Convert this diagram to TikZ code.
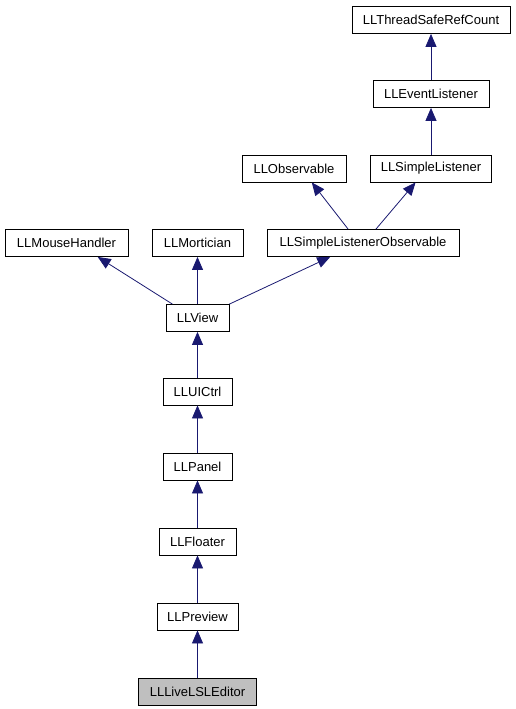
\documentclass[tikz,border=0pt]{standalone}
\usepackage{fontspec}
\setmainfont{Liberation Sans}
\usetikzlibrary{arrows.meta}
\definecolor{edgeblue}{HTML}{191970}
\tikzset{
  cls/.style={draw=black, line width=0.8pt, fill=white, minimum height=27pt,
    inner sep=0pt, font=\fontsize{13}{15}\selectfont},
  cur/.style={cls, fill=black!25},
  inherit/.style={draw=edgeblue, line width=0.8pt,
    -{Triangle[width=11pt,length=13pt]}}
}
\begin{document}
\begin{tikzpicture}[x=1pt,y=-1pt]
    \useasboundingbox (0,0) rectangle (516,709);

    % Top of the hierarchy
    \node[cls, minimum width=158pt] (tsrc) at (431,20) {LLThreadSafeRefCount};
    \node[cls, minimum width=116pt] (evl) at (431,94) {LLEventListener};
    \node[cls, minimum width=104pt] (obs) at (294,168.5) {LLObservable};
    \node[cls, minimum width=121pt] (sl) at (431,168.5) {LLSimpleListener};

    % Parents of LLView
    \node[cls, minimum width=123pt] (mh) at (66.5,243) {LLMouseHandler};
    \node[cls, minimum width=91pt] (mort) at (197.5,243) {LLMortician};
    \node[cls, minimum width=192pt] (slo) at (363,243) {LLSimpleListenerObservable};

    % Main column
    \node[cls, minimum width=63pt] (view) at (197.5,318) {LLView};
    \node[cls, minimum width=69pt] (uictrl) at (197.5,391.5) {LLUICtrl};
    \node[cls, minimum width=69pt] (panel) at (197.5,466.5) {LLPanel};
    \node[cls, minimum width=77pt] (floater) at (197.5,541.5) {LLFloater};
    \node[cls, minimum width=81pt] (preview) at (197.5,616.5) {LLPreview};
    \node[cur, minimum width=118pt] (editor) at (197.5,691.5) {LLLiveLSLEditor};

    % Inheritance arrows
    \draw[inherit] (evl) -- (tsrc);
    \draw[inherit] (sl) -- (evl);
    \draw[inherit] (slo.137) -- (obs.-38);
    \draw[inherit] (slo.47) -- (sl.222);
    \draw[inherit] (view.151) -- (mh.-24);
    \draw[inherit] (view) -- (mort);
    \draw[inherit] (view.north east) -- (slo.203);
    \draw[inherit] (uictrl) -- (view);
    \draw[inherit] (panel) -- (uictrl);
    \draw[inherit] (floater) -- (panel);
    \draw[inherit] (preview) -- (floater);
    \draw[inherit] (editor) -- (preview);
\end{tikzpicture}
\end{document}
